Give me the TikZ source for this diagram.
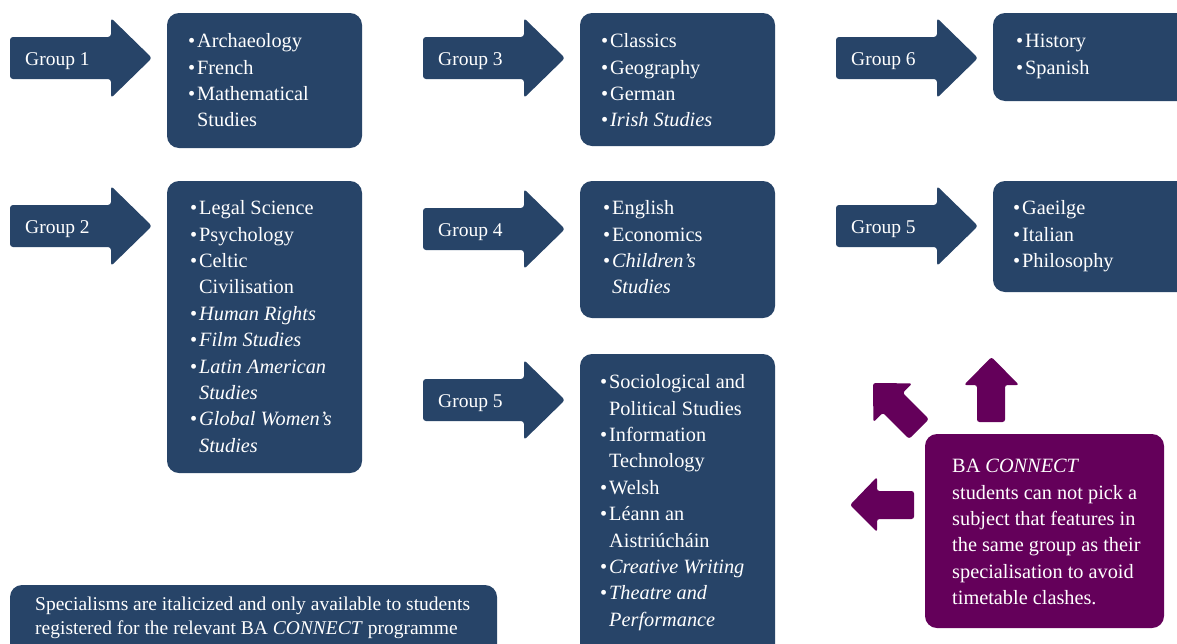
\documentclass[tikz,border=0pt]{standalone}
\usepackage{fontspec}
\setmainfont{Liberation Serif}
\definecolor{navy}{HTML}{274468}
\definecolor{plum}{HTML}{64005A}
\newcommand\bl{\makebox[9pt][l]{\textbullet}}
\newcommand\ind{\hspace*{9pt}}
\tikzset{
  navyshape/.style={fill=navy,draw=none,rounded corners=3pt},
  plumshape/.style={fill=plum,draw=none,rounded corners=2.5pt},
  navybox/.style={fill=navy,draw=none,rounded corners=12pt},
  plumbox/.style={fill=plum,draw=none,rounded corners=12pt},
  grplabel/.style={text=white,font=\fontsize{19.5}{24}\selectfont,anchor=base west,inner sep=0pt},
  listtext/.style={text=white,font=\fontsize{20.3}{26.4}\selectfont,anchor=north west,inner sep=0pt,align=left},
  notetext/.style={listtext,font=\fontsize{19.5}{24.5}\selectfont},
}
\newcommand\garrow[4]{%
  \fill[navyshape] (#1,{#2-21}) -- ({#1+101},{#2-21}) -- ({#1+101},{#2-40}) -- ({#1+142},#2) -- ({#1+101},{#2+40}) -- ({#1+101},{#2+21}) -- (#1,{#2+21}) -- cycle;
  \node[grplabel] (#3) at ({#1+15},{#2+7}) {Group #4};}
\begin{document}
\begin{tikzpicture}[x=1pt,y=-1pt]
\clip (0,0) rectangle (1177,643);
\fill[white] (0,0) rectangle (1177,643);
% group arrows
\garrow{10}{58}{g1}{1}
\garrow{10}{226}{g2}{2}
\garrow{423}{58}{g3}{3}
\garrow{423}{229}{g4}{4}
\garrow{423}{400}{g5}{5}
\garrow{836}{58}{g6}{6}
\garrow{836}{226}{g5b}{5}
% boxes
\fill[navybox] (167,13) rectangle (362,148);
\fill[navybox] (167,181) rectangle (362,473);
\fill[navybox] (580,13) rectangle (775,146);
\fill[navybox] (580,181) rectangle (775,318);
\fill[navybox] (580,354) rectangle (775,670);
\fill[navybox] (993,13) rectangle (1200,101);
\fill[navybox] (993,181) rectangle (1200,292);
\fill[navybox] (10,585) rectangle (497,670);
\fill[plumbox] (925,434) rectangle (1164,628);
% lists
\node[listtext] (l1) at (188,29) {\strut\bl Archaeology\\\bl French\\\bl Mathematical\\\ind Studies};
\node[listtext] (l2) at (190,196) {\strut\bl Legal Science\\\bl Psychology\\\bl Celtic\\\ind Civilisation\\\bl \textit{Human Rights}\\\bl \textit{Film Studies}\\\bl \textit{Latin American}\\\ind \textit{Studies}\\\bl \textit{Global Women's}\\\ind \textit{Studies}};
\node[listtext] (l3) at (601,29) {\strut\bl Classics\\\bl Geography\\\bl German\\\bl \textit{Irish Studies}};
\node[listtext] (l4) at (603,196) {\strut\bl English\\\bl Economics\\\bl \textit{Children's}\\\ind \textit{Studies}};
\node[listtext] (l5) at (600,370) {\strut\bl Sociological and\\\ind Political Studies\\\bl Information\\\ind Technology\\\bl Welsh\\\bl Léann an\\\ind Aistriúcháin\\\bl \textit{Creative Writing}\\\bl \textit{Theatre and}\\\ind \textit{Performance}};
\node[listtext] (l6) at (1016,29) {\strut\bl History\\\bl Spanish};
\node[listtext] (l7) at (1013,196) {\strut\bl Gaeilge\\\bl Italian\\\bl Philosophy};
\node[notetext] (note) at (35,593) {\strut Specialisms are italicized and only available to students\\registered for the relevant BA \textit{CONNECT} programme};
\node[listtext] (warn) at (952,454) {\strut BA \textit{CONNECT}\\students can not pick a\\subject that features in\\the same group as their\\specialisation to avoid\\timetable clashes.};
% purple arrows
\fill[plumshape] (977,422) -- (1005,422) -- (1005,385) -- (1019,385) -- (991.5,357) -- (964,385) -- (977,385) -- cycle;
\fill[plumshape] (914,491) -- (914,519) -- (877,519) -- (877,532) -- (850,505) -- (877,477) -- (877,491) -- cycle;
\fill[plumshape] (873,383) -- (912.2,383.4) -- (902.7,392.9) -- (928.9,419.1) -- (909.1,438.9) -- (882.9,412.7) -- (873.4,422.2) -- cycle;
\end{tikzpicture}
\end{document}
